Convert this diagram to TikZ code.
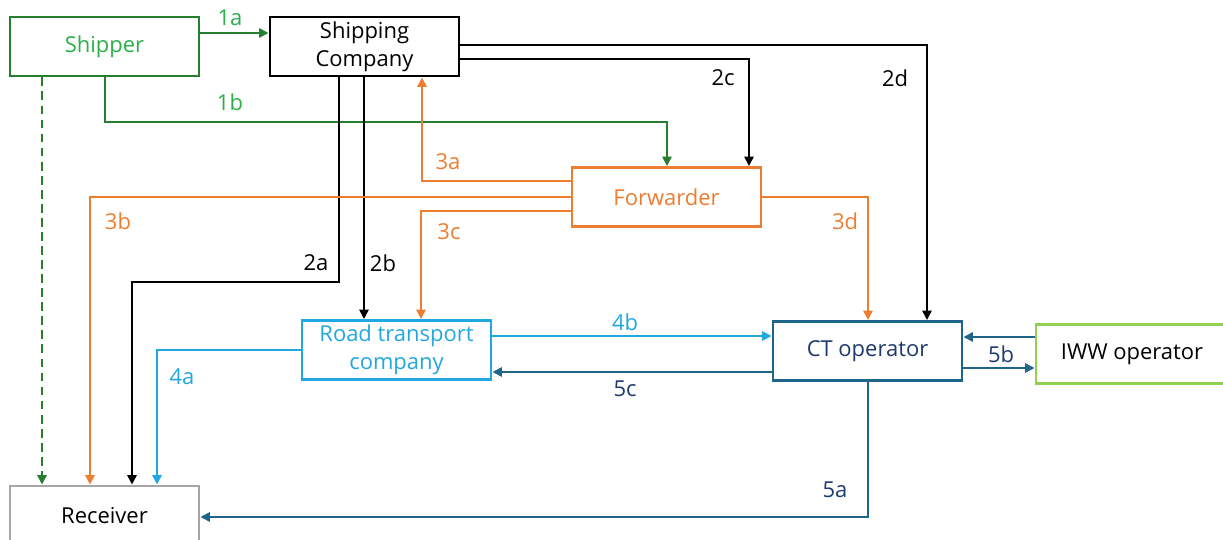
\documentclass[tikz,border=0pt]{standalone}
\usepackage{fontspec}
\setmainfont{Open Sans}
\usetikzlibrary{arrows.meta}

\definecolor{lgreen}{HTML}{267F2E}
\definecolor{tgreen}{HTML}{2BB04A}
\definecolor{orng}{HTML}{ED7D31}
\definecolor{lblue}{HTML}{22A8E0}
\definecolor{teal}{HTML}{1F6489}
\definecolor{navy}{HTML}{1F3A6E}
\definecolor{iwwgreen}{HTML}{92D050}
\definecolor{rgray}{HTML}{A6A6A6}

\tikzset{
  box/.style={draw, line width=1.6pt, fill=white, minimum width=3.78cm,
    minimum height=1.18cm, inner sep=1pt, align=center,
    font=\fontsize{12.5}{15.8}\selectfont},
  lbl/.style={inner sep=0pt, font=\fontsize{12.5}{15}\selectfont},
  conn/.style={line width=1.3pt},
  arr/.style={conn, -{Triangle[length=5.4pt,width=5.2pt]}},
}

\begin{document}
\begin{tikzpicture}[x=0.02cm, y=-0.02cm]
  \useasboundingbox (0,0) rectangle (1223,540);

  % actors
  \node[box, draw=lgreen, text=tgreen] (shipper) at (104.5,46.5) {Shipper};
  \node[box, draw=black] (shipco) at (364.5,46.5) {Shipping\\Company};
  \node[box, draw=orng, text=orng] (fwd) at (666.5,197) {Forwarder};
  \node[box, draw=lblue, text=lblue] (road) at (396.5,350) {Road transport\\company};
  \node[box, draw=teal, text=navy] (ct) at (867.5,351) {CT operator};
  \node[box, draw=iwwgreen, minimum width=3.84cm] (iww) at (1132,354) {IWW operator};
  \node[box, draw=rgray] (recv) at (104.5,515.5) {Receiver};

  % shipper flows
  \draw[arr, lgreen] (shipper.east |- 0,33) -- (shipco.west |- 0,33);
  \draw[arr, lgreen, dashed, dash pattern=on 5pt off 3pt] (shipper.south -| 42,0) -- (recv.north -| 42,0);
  \draw[arr, lgreen] (shipper.south -| 105,0) -- (105,122) -| (fwd.north -| 667,0);

  % shipping company flows
  \draw[arr, black] (shipco.east |- 0,45) -| (ct.north -| 927,0);
  \draw[arr, black] (shipco.east |- 0,59) -| (fwd.north -| 749,0);
  \draw[arr, black] (shipco.south -| 339,0) -- (339,282) -| (recv.north -| 132,0);
  \draw[arr, black] (shipco.south -| 364,0) -- (road.north -| 364,0);

  % forwarder flows
  \draw[arr, orng] (fwd.west |- 0,181) -| (shipco.south -| 422,0);
  \draw[arr, orng] (fwd.west |- 0,197) -| (recv.north -| 90,0);
  \draw[arr, orng] (fwd.west |- 0,211) -| (road.north -| 421,0);
  \draw[arr, orng] (fwd.east) -| (ct.north -| 868,0);

  % road transport flows
  \draw[arr, lblue] (road.west) -| (recv.north -| 157,0);
  \draw[arr, lblue] (road.east |- 0,336) -- (ct.west |- 0,336);

  % CT operator flows
  \draw[arr, teal] (ct.west |- 0,372) -- (road.east |- 0,372);
  \draw[arr, teal] (iww.west |- 0,337) -- (ct.east |- 0,337);
  \draw[arr, teal] (ct.east |- 0,368) -- (iww.west |- 0,368);
  \draw[arr, teal] (ct.south -| 868,0) |- (recv.east |- 0,517);

  % flow labels
  \node[lbl, text=tgreen] (l1a) at (230,18) {1a};
  \node[lbl, text=tgreen] (l1b) at (230,102) {1b};
  \node[lbl] (l2a) at (316,263) {2a};
  \node[lbl] (l2b) at (383,263) {2b};
  \node[lbl] (l2c) at (723,78) {2c};
  \node[lbl] (l2d) at (895,78) {2d};
  \node[lbl, text=orng] (l3a) at (448,162) {3a};
  \node[lbl, text=orng] (l3b) at (118,221) {3b};
  \node[lbl, text=orng] (l3c) at (449,232) {3c};
  \node[lbl, text=orng] (l3d) at (845,221) {3d};
  \node[lbl, text=lblue] (l4a) at (182,377) {4a};
  \node[lbl, text=lblue] (l4b) at (625,322) {4b};
  \node[lbl, text=navy] (l5a) at (835,490) {5a};
  \node[lbl, text=navy] (l5b) at (1001,354) {5b};
  \node[lbl, text=navy] (l5c) at (625,389) {5c};
\end{tikzpicture}
\end{document}
